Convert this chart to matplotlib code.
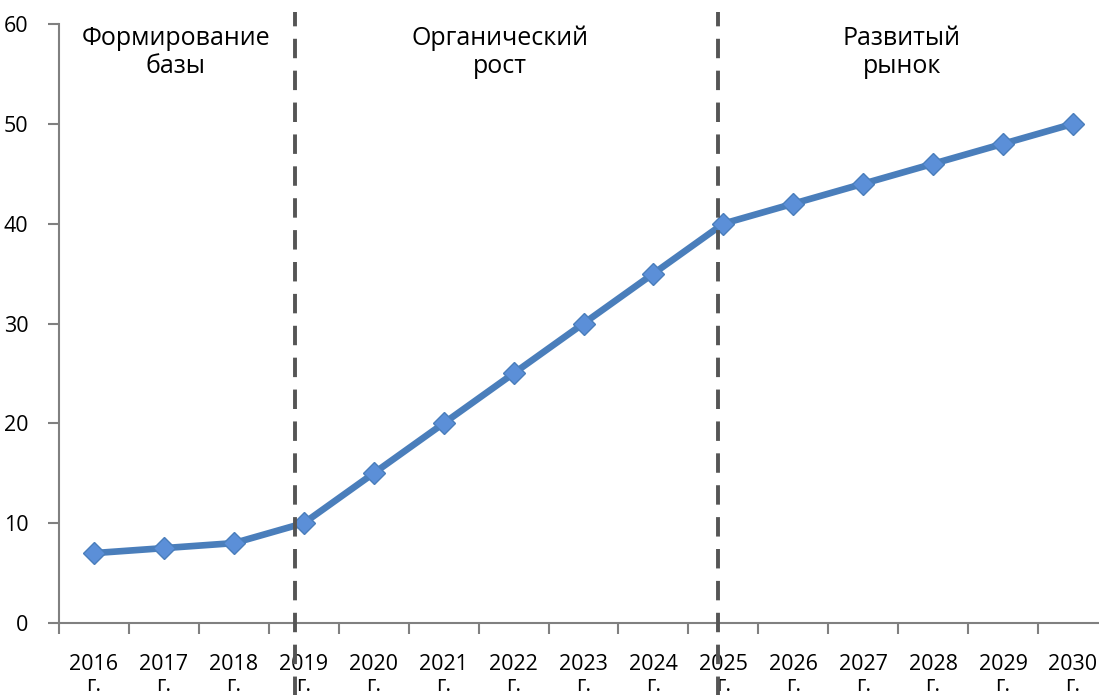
import matplotlib
matplotlib.use("Agg")
import matplotlib.pyplot as plt

# data
years = ["2016", "2017", "2018", "2019", "2020", "2021", "2022", "2023",
         "2024", "2025", "2026", "2027", "2028", "2029", "2030"]
values = [7, 7.5, 8, 10, 15, 20, 25, 30, 35, 40, 42, 44, 46, 48, 50]
phase_labels = ["Формирование\nбазы", "Органический\nрост", "Развитый\nрынок"]
phase_label_x = [1.17, 5.8, 11.55]
phase_bounds = [2.87, 8.93]

plt.rcParams['font.family'] = ['Open Sans', 'DejaVu Sans']

fig = plt.figure(figsize=(10.99, 6.95), dpi=100)
ax = fig.add_axes([59 / 1099, 1 - 623 / 695, 1049 / 1099, 599 / 695])

x = list(range(len(years)))
ax.plot(x, values, color='#4a7ebb', linewidth=4.8, marker='D', markersize=11,
        markerfacecolor='#5b8fd8', markeredgecolor='#4a7ebb', markeredgewidth=1,
        zorder=3, clip_on=False)

for b in phase_bounds:
    ax.axvline(b, ymin=-0.13, ymax=1.02, color='#555555', linewidth=2.8,
               linestyle=(0, (5, 3.2)), zorder=4, clip_on=False)

for lbl, lx in zip(phase_labels, phase_label_x):
    ax.text(lx, 59.8, lbl, ha='center', va='top', fontsize=18,
            linespacing=1.15, color='black')

ax.set_xlim(-0.5, 14.5)
ax.set_ylim(0, 60)
ax.set_yticks(range(0, 61, 10))
ax.set_xticks([i - 0.5 for i in range(len(years) + 1)])
ax.set_xticklabels([])
ax.set_xticks(x, minor=True)
ax.set_xticklabels([y + "\nг." for y in years], minor=True, fontsize=15.5,
                   linespacing=1.05)
ax.tick_params(axis='x', which='major', length=8, width=1.5, color='#808080')
ax.tick_params(axis='x', which='minor', length=0, pad=22)
ax.tick_params(axis='y', length=8, width=1.5, color='#808080', labelsize=15.5, pad=14)

for s in ['top', 'right']:
    ax.spines[s].set_visible(False)
for s in ['left', 'bottom']:
    ax.spines[s].set_color('#808080')
    ax.spines[s].set_linewidth(1.5)

fig.savefig("out.png", dpi=100)
